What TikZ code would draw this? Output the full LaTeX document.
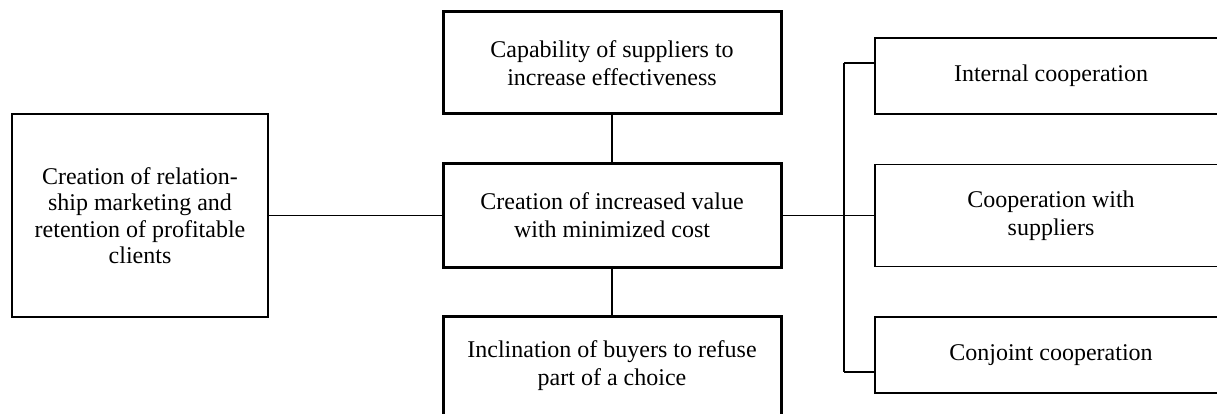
\documentclass[tikz,border=0pt]{standalone}
\usepackage{fontspec}
\setmainfont{Liberation Serif}
\tikzset{
  thickbox/.style={draw,line width=3pt,align=center,inner sep=0pt,minimum width=338pt},
  thinbox/.style={draw,line width=1.5pt,align=center,inner sep=0pt},
  link/.style={line width=1.5pt}
}
\begin{document}
\begin{tikzpicture}[x=1pt,y=-1pt,font=\fontsize{24}{28}\selectfont]
	\useasboundingbox (0,0) rectangle (1217,414);
	\clip (0,0) rectangle (1217,414);
	\node[thickbox,minimum height=102pt] (suppliers) at (612,63) {Capability of suppliers to\\increase effectiveness};
	\node[thickbox,minimum height=103pt] (value) at (612,215.5) {Creation of increased value\\with minimized cost};
	\node[thickbox,minimum height=100pt] (buyers) at (612,366) {Inclination of buyers to refuse\\part of a choice};
	\node[thinbox,minimum width=256pt,minimum height=203pt,font=\fontsize{24}{26.5}\selectfont] (marketing) at (140,215.5) {Creation of relation-\\ship marketing and\\retention of profitable\\clients};
	\node[thinbox,minimum width=352pt,minimum height=76pt] (internal) at (1051,76) {Internal cooperation};
	\node[thinbox,minimum width=352pt,minimum height=102pt] (withsup) at (1051,215.5) {Cooperation with\\suppliers};
	\node[thinbox,minimum width=352pt,minimum height=76pt] (conjoint) at (1051,355) {Conjoint cooperation};
	\coordinate (forktop) at (844,63);
	\coordinate (forkbot) at (844,372);
	\draw[link] (suppliers) -- (value);
	\draw[link] (value) -- (buyers);
	\draw[link] (marketing) -- (value);
	\draw[link] (value) -- (withsup);
	\draw[link] (forktop) -- (forkbot);
	\draw[link] (forktop) -- (internal.west |- forktop);
	\draw[link] (forkbot) -- (conjoint.west |- forkbot);
\end{tikzpicture}
\end{document}
